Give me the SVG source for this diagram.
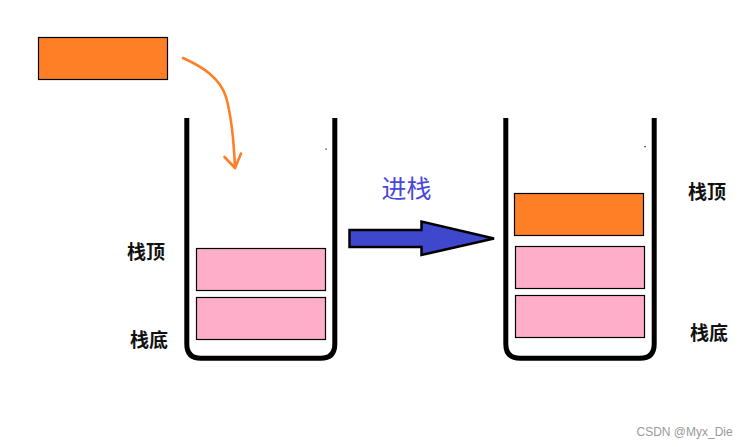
<svg xmlns="http://www.w3.org/2000/svg" width="747" height="447" viewBox="0 0 747 447">
<style>
.box{stroke:#000;stroke-width:1.2}
.orange{fill:#ff7f27}
.pink{fill:#ffaec9}
.cup{fill:none;stroke:#000;stroke-width:5}
.lbl{font-family:"Noto Sans CJK SC","Noto Sans",sans-serif;font-size:19px;font-weight:bold;fill:#111}
.push{font-family:"Noto Sans CJK SC","Noto Sans",sans-serif;font-size:25px;fill:#4848d8}
.wm{font-family:"Liberation Sans",Arial,sans-serif;font-size:12px;fill:#9a9a9a}
.curve{fill:none;stroke:#ff7f27;stroke-width:2.6;stroke-linecap:round;stroke-linejoin:round}
</style>
<rect width="747" height="447" fill="#fff"/>
<g id="incoming">
<rect class="box orange" x="38.5" y="37.5" width="129" height="42"/>
</g>
<g id="stack-left">
<path class="cup" d="M186.8,118 V344 Q186.8,358.3 201,358.3 H320.5 Q334.8,358.3 334.8,344 V118"/>
<rect class="box pink" x="196.5" y="248.5" width="129" height="42"/>
<rect class="box pink" x="196.5" y="297.5" width="129" height="42"/>
<rect x="325.5" y="148.5" width="1.2" height="1.2" fill="#000"/>
<text class="lbl" x="127" y="258.5">栈顶</text>
<text class="lbl" x="130" y="347">栈底</text>
</g>
<g id="stack-right">
<path class="cup" d="M505.8,118 V344 Q505.8,358.3 520,358.3 H640 Q654.2,358.3 654.2,344 V118"/>
<rect class="box orange" x="514.5" y="193.5" width="129" height="42"/>
<rect class="box pink" x="515.5" y="246.5" width="129" height="42"/>
<rect class="box pink" x="515.5" y="295.5" width="129" height="42"/>
<rect x="644.5" y="146" width="1.2" height="1.2" fill="#000"/>
<text class="lbl" x="688" y="198.5">栈顶</text>
<text class="lbl" x="690" y="339.5">栈底</text>
</g>
<g id="connectors">
<path class="curve" d="M183,58 C203,67 220,78 226,97 C232,118 234,145 235,168"/>
<path class="curve" d="M224.5,157 L235,168 L241,153.5"/>
<polygon points="349.5,230 421.5,230 421.5,221.5 494,238.5 421.5,255 421.5,247 349.5,247" fill="#3f48cc" stroke="#000" stroke-width="2.5" stroke-linejoin="miter"/>
<text class="push" x="381.5" y="197.5">进栈</text>
</g>
<text class="wm" x="636.5" y="436">CSDN @Myx_Die</text>
</svg>
